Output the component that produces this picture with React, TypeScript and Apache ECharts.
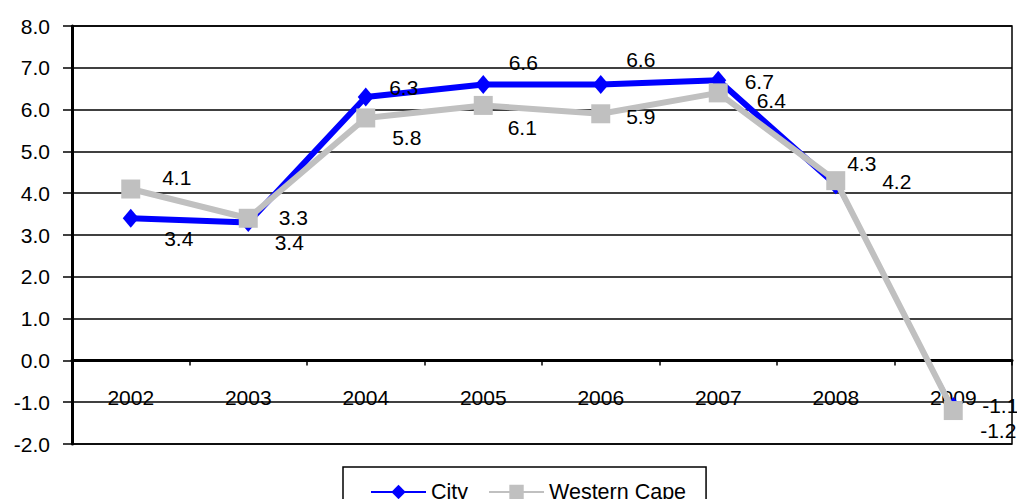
import React, { useEffect, useRef } from "react";
import * as echarts from "echarts";

const years = ["2002", "2003", "2004", "2005", "2006", "2007", "2008", "2009"];
const cityValues = [3.4, 3.3, 6.3, 6.6, 6.6, 6.7, 4.2, -1.1];
const westernCapeValues = [4.1, 3.4, 5.8, 6.1, 5.9, 6.4, 4.3, -1.2];
const yTicks = { min: -2, max: 8, interval: 1 };

// label offsets (pixels from the marker centre), mimicking the original placement
const cityLabelOffsets = [
  [48, 20], [45, -5], [38, -10], [40, -22], [40, -25], [41, 1], [61, -3], [47, -1],
];
const wcLabelOffsets = [
  [46, -12], [41, 24], [41, 20], [39, 22], [40, 3], [53, 8], [26, -17], [45, 20],
];

const FONT = "'Liberation Sans', Arial, sans-serif";
const BLUE = "#0000ff";
const GRAY = "#c0c0c0";

function labelled(values: any[], offsets: number[][]) {
  return values.map((v, i) => ({
    value: v,
    label: {
      show: true,
      position: "inside",
      offset: offsets[i],
      align: "center",
      verticalAlign: "middle",
      color: "#000",
      fontSize: 21,
      fontFamily: FONT,
      formatter: (p: any) => Number(p.value).toFixed(1),
    },
  }));
}

export default function App() {
  const ref = useRef<HTMLDivElement>(null);
  useEffect(() => {
    document.body.style.margin = "0";
    const chart = echarts.init(ref.current!, null, { renderer: "svg" });
    const n = cityValues.length;
    const cityMain = cityValues.map((v, i) => (i <= n - 2 ? v : "-"));
    const cityTail = cityValues.map((v, i) => (i >= n - 2 ? v : "-"));
    chart.setOption({
      animation: false,
      textStyle: { fontFamily: FONT, color: "#000" },
      grid: {
        left: 72,
        right: 5,
        top: 26,
        bottom: 55,
        show: true,
        borderColor: "#000",
        borderWidth: 1.5,
      },
      legend: {
        left: 343,
        top: 467,
        padding: [14, 20, 14, 27],
        borderColor: "#000",
        borderWidth: 1.5,
        itemWidth: 55,
        itemHeight: 18,
        itemGap: 20,
        textStyle: { fontSize: 21.5, fontFamily: FONT, color: "#000" },
        data: ["City", "Western Cape"],
      },
      xAxis: {
        type: "category",
        data: years,
        boundaryGap: true,
        axisLine: { onZero: true, lineStyle: { color: "#000", width: 3 } },
        axisTick: { show: true, inside: false, length: 5, lineStyle: { color: "#000", width: 1.5 } },
        axisLabel: { color: "#000", fontSize: 21, fontFamily: FONT, margin: -57, interval: 0 },
        splitLine: { show: false },
      },
      yAxis: {
        type: "value",
        min: yTicks.min,
        max: yTicks.max,
        interval: yTicks.interval,
        axisLine: { show: true, onZero: false, lineStyle: { color: "#000", width: 3 } },
        axisTick: { show: true, length: 9, lineStyle: { color: "#000", width: 1.5 } },
        axisLabel: {
          color: "#000",
          fontSize: 21,
          fontFamily: FONT,
          margin: 22,
          formatter: (v: number) => v.toFixed(1),
        },
        splitLine: { show: true, lineStyle: { color: "#000", width: 1.5 } },
      },
      series: [
        {
          name: "City",
          type: "line",
          data: labelled(cityMain, cityLabelOffsets).map((d, i) =>
            i === n - 1 ? { value: "-", label: { show: false } } : d
          ),
          symbol: "diamond",
          symbolSize: [16, 19],
          showAllSymbol: true,
          lineStyle: { color: BLUE, width: 6 },
          itemStyle: { color: BLUE },
          z: 2,
        },
        {
          name: "City",
          type: "line",
          data: labelled(cityTail, cityLabelOffsets).map((d, i) =>
            i === n - 2 ? { value: d.value, label: { show: false } } : d
          ),
          symbol: "diamond",
          symbolSize: [16, 19],
          showAllSymbol: true,
          lineStyle: { color: BLUE, width: 1.5 },
          itemStyle: { color: BLUE },
          z: 2,
        },
        {
          name: "Western Cape",
          type: "line",
          data: labelled(westernCapeValues, wcLabelOffsets),
          symbol: "rect",
          symbolSize: 19,
          showAllSymbol: true,
          lineStyle: { color: GRAY, width: 6 },
          itemStyle: { color: GRAY },
          z: 3,
        },
      ],
    });
    return () => chart.dispose();
  }, []);
  return (
    <div
      ref={ref}
      style={{ position: "absolute", left: 0, top: 0, width: 1017, height: 499 }}
    />
  );
}
